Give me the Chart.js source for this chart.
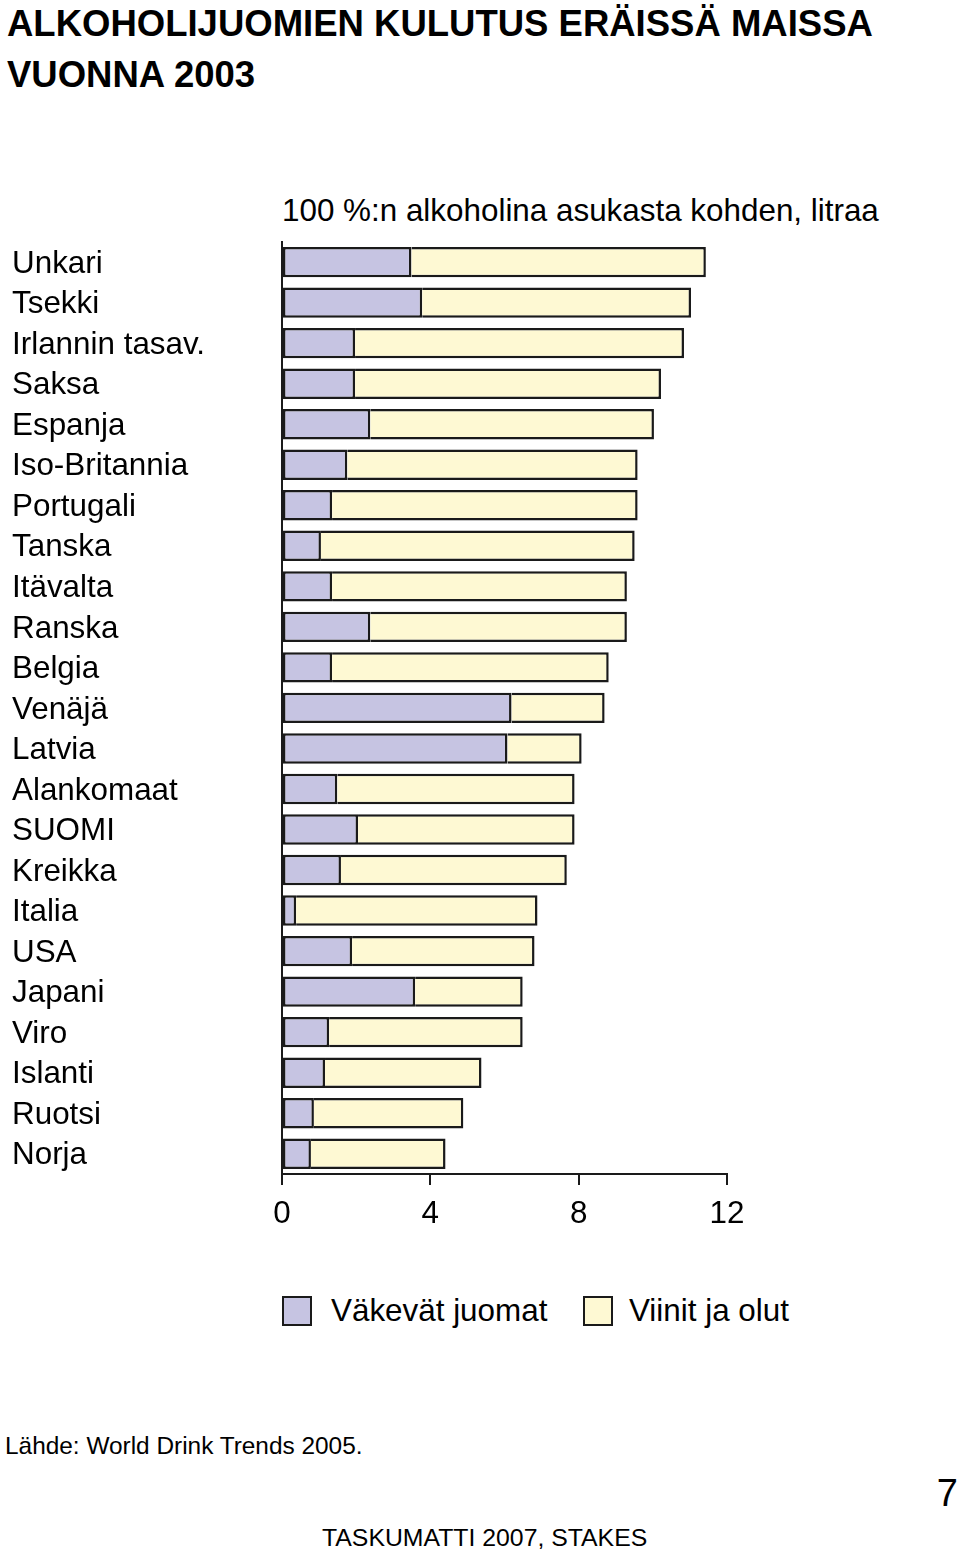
<!DOCTYPE html>
<html>
<head>
<meta charset="utf-8">
<script src="https://cdn.jsdelivr.net/npm/chart.js@4/dist/chart.umd.min.js"></script>
<style>
  html, body { margin: 0; padding: 0; background: #fff; }
  body { width: 960px; height: 1557px; position: relative; overflow: hidden; font-family: "Liberation Sans", Arial, Helvetica, sans-serif; color: #000; }
  .t { position: absolute; white-space: nowrap; }
  #chartWrap { position: absolute; left: 0; top: 223px; width: 960px; height: 1017px; }
  .sw { position: absolute; width: 26px; height: 26px; border: 2px solid #1a1a1a; }
</style>
</head>
<body>
<div class="t" style="left:7px; top:6px; font-size:36.5px; line-height:36px; font-weight:bold;">ALKOHOLIJUOMIEN KULUTUS ERÄISSÄ MAISSA</div>
<div class="t" style="left:7px; top:57px; font-size:36.5px; line-height:36px; font-weight:bold;">VUONNA 2003</div>
<div class="t" style="left:282px; top:195px; font-size:31.4px; line-height:31px;">100 %:n alkoholina asukasta kohden, litraa</div>

<div id="chartWrap"><canvas id="c" width="960" height="1017"></canvas></div>

<div id="legend"></div>

<div class="t" style="left:5px; top:1434px; font-size:24.4px; line-height:24px;">Lähde: World Drink Trends 2005.</div>
<div class="t" style="right:2px; top:1474px; font-size:38px; line-height:38px;">7</div>
<div class="t" style="left:322px; top:1526px; font-size:24.8px; line-height:24px;">TASKUMATTI 2007, STAKES</div>

<script>
const countries = ["Unkari", "Tsekki", "Irlannin tasav.", "Saksa", "Espanja", "Iso-Britannia", "Portugali", "Tanska", "Itävalta", "Ranska", "Belgia", "Venäjä", "Latvia", "Alankomaat", "SUOMI", "Kreikka", "Italia", "USA", "Japani", "Viro", "Islanti", "Ruotsi", "Norja"];
const spirits = [3.49, 3.78, 1.97, 1.97, 2.38, 1.76, 1.35, 1.05, 1.35, 2.38, 1.35, 6.19, 6.08, 1.49, 2.05, 1.59, 0.38, 1.89, 3.59, 1.27, 1.16, 0.86, 0.78];
const winesAndBeer = [7.94, 7.25, 8.87, 8.25, 7.65, 7.83, 8.24, 8.46, 7.95, 6.92, 7.46, 2.51, 2.00, 6.40, 5.84, 6.09, 6.51, 4.92, 2.90, 5.22, 4.22, 4.03, 3.63];
const xTicks = [0, 4, 8, 12];
const seriesNames = ["Väkevät juomat", "Viinit ja olut"];
const seriesColors = ["#c6c4e2", "#fef9d3"];

const FONT = '"Liberation Sans", Arial, Helvetica, sans-serif';

new Chart(document.getElementById('c'), {
  type: 'bar',
  data: {
    labels: countries,
    datasets: [
      { label: seriesNames[0], data: spirits, backgroundColor: seriesColors[0], borderColor: '#1a1a1a', borderWidth: 2.5, borderSkipped: false, barPercentage: 0.75, categoryPercentage: 1 },
      { label: seriesNames[1], data: winesAndBeer, backgroundColor: seriesColors[1], borderColor: '#1a1a1a', borderWidth: 2.5, borderSkipped: 'start', barPercentage: 0.75, categoryPercentage: 1 }
    ]
  },
  options: {
    indexAxis: 'y',
    responsive: false,
    animation: false,
    devicePixelRatio: 1,
    layout: { padding: { left: 12, right: 233, top: 0, bottom: 0 } },
    plugins: { legend: { display: false }, tooltip: { enabled: false }, title: { display: false } },
    scales: {
      x: {
        stacked: true,
        min: 0, max: 12,
        afterBuildTicks: (s) => { s.ticks = xTicks.map(v => ({ value: v })); },
        afterFit: (s) => { s.height = 66; },
        grid: { display: true, drawOnChartArea: false, drawTicks: true, tickLength: 11, color: '#1a1a1a', lineWidth: 2 },
        border: { display: true, color: '#1a1a1a', width: 2 },
        ticks: { color: '#000', font: { family: FONT, size: 31.4 }, padding: 11, maxRotation: 0 }
      },
      y: {
        stacked: true,
        afterFit: (s) => { s.width = 270; },
        grid: { display: false },
        border: { display: true, color: '#1a1a1a', width: 2 },
        ticks: { color: '#000', font: { family: FONT, size: 31.4 }, crossAlign: 'far', padding: 0, autoSkip: false, labelOffset: 2 }
      }
    }
  }
});

// HTML legend built from the series names/colours
const lg = document.getElementById('legend');
const legendPos = [{ box: 282, text: 331 }, { box: 583, text: 629 }];
seriesNames.forEach((n, i) => {
  const b = document.createElement('div');
  b.className = 'sw';
  b.style.left = legendPos[i].box + 'px';
  b.style.top = '1296px';
  b.style.background = seriesColors[i];
  lg.appendChild(b);
  const t = document.createElement('div');
  t.className = 't';
  t.style.left = legendPos[i].text + 'px';
  t.style.top = '1295px';
  t.style.fontSize = '31.4px';
  t.style.lineHeight = '31px';
  t.textContent = n;
  lg.appendChild(t);
});
</script>
</body>
</html>
